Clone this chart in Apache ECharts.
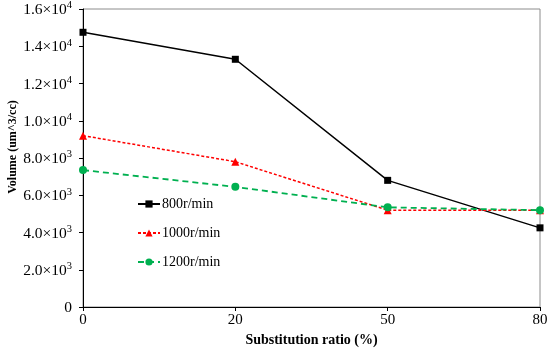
<!DOCTYPE html>
<html><head><meta charset="utf-8">
<script src="https://cdn.jsdelivr.net/npm/echarts@6/dist/echarts.min.js"></script>
<style>html,body{margin:0;padding:0;background:#fff}#c{width:550px;height:349px}</style>
</head><body><div id="c"></div>
<script>
const categories = ['0', '20', '50', '80'];
const s800 = [14750, 13300, 6800, 4250];
const s1000 = [9200, 7800, 5200, 5200];
const s1200 = [7350, 6450, 5350, 5200];
const yTickLabels = ['0', '2.0×10^3', '4.0×10^3', '6.0×10^3', '8.0×10^3', '1.0×10^4', '1.2×10^4', '1.4×10^4', '1.6×10^4'];
const seriesNames = ['800r/min', '1000r/min', '1200r/min'];
const yAxisName = 'Volume (um^3/cc)';
const xAxisName = 'Substitution ratio (%)';

const font = '"Liberation Serif", "Times New Roman", serif';
function fmtY(v) {
  const t = yTickLabels[Math.round(v / 2000)];
  if (t.indexOf('^') < 0) return '{a|' + t + '}';
  const p = t.split('^');
  return '{a|' + p[0] + '}{s|' + p[1] + '}';
}
const chart = echarts.init(document.getElementById('c'), null, {renderer: 'canvas'});
chart.setOption({
  animation: false,
  textStyle: {fontFamily: font},
  grid: {left: 83, right: 10, top: 9, bottom: 42, show: true, borderColor: '#8c8c8c', borderWidth: 1,
         outerBoundsMode: 'none', containLabel: false},
  graphic: [{
    type: 'text', x: 13, y: 147, rotation: Math.PI / 2,
    style: {text: yAxisName, fill: '#000', font: 'bold 12px ' + font, textAlign: 'center', textVerticalAlign: 'middle'}
  }],
  legend: {
    orient: 'vertical', left: 137, top: 197, padding: 0, itemGap: 15, itemWidth: 22, itemHeight: 9,
    textStyle: {fontFamily: font, fontSize: 14, color: '#000', padding: [0, 0, 0, -3]},
    data: seriesNames
  },
  xAxis: {
    type: 'category', data: categories, boundaryGap: false,
    name: xAxisName, nameLocation: 'middle', nameGap: 23,
    nameTextStyle: {fontFamily: font, fontSize: 14, fontWeight: 'bold', color: '#000'},
    axisLine: {lineStyle: {color: '#000', width: 1}},
    axisTick: {alignWithLabel: true, length: 4, lineStyle: {color: '#000'}},
    axisLabel: {fontFamily: font, fontSize: 15, color: '#000', margin: 6},
    splitLine: {show: false}
  },
  yAxis: {
    type: 'value', min: 0, max: 16000, interval: 2000,
    axisLine: {show: true, lineStyle: {color: '#000', width: 1}},
    axisTick: {show: true, length: 4, lineStyle: {color: '#000'}},
    axisLabel: {color: '#000', margin: 11, formatter: fmtY,
      rich: {
        a: {fontFamily: font, fontSize: 15.5, color: '#000', lineHeight: 18, verticalAlign: 'bottom'},
        s: {fontFamily: font, fontSize: 10.5, color: '#000', lineHeight: 18, verticalAlign: 'top'}
      }},
    splitLine: {show: false}
  },
  series: [
    {name: seriesNames[0], type: 'line', data: s800, symbol: 'rect', symbolSize: 7,
     lineStyle: {color: '#000', width: 1.5}, itemStyle: {color: '#000'}},
    {name: seriesNames[1], type: 'line', data: s1000, symbol: 'triangle', symbolSize: 8,
     lineStyle: {color: '#ff0000', width: 1.5, type: [3, 2]}, itemStyle: {color: '#ff0000'}},
    {name: seriesNames[2], type: 'line', data: s1200, symbol: 'circle', symbolSize: 8,
     lineStyle: {color: '#00b050', width: 1.8, type: [6, 4]}, itemStyle: {color: '#00b050'}}
  ]
});
</script></body></html>
